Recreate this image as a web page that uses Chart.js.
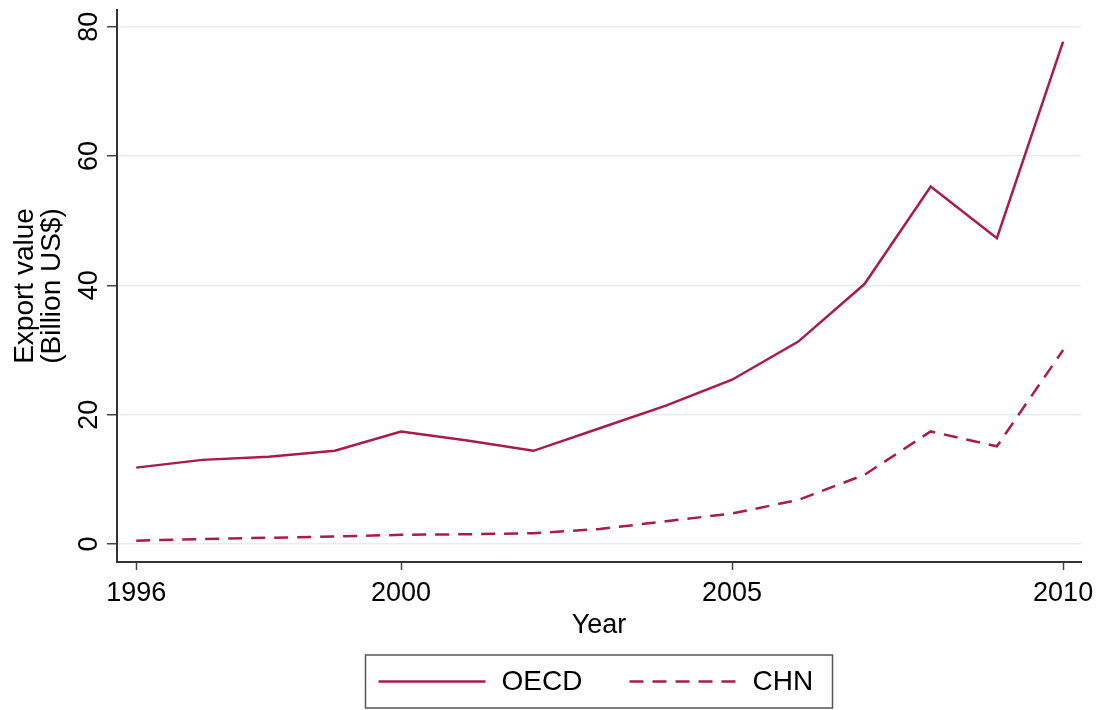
<!DOCTYPE html>
<html>
<head>
<meta charset="utf-8">
<script src="https://cdn.jsdelivr.net/npm/chart.js@4/dist/chart.umd.min.js"></script>
<style>
  html, body { margin: 0; padding: 0; background: #fff; }
  #wrap { width: 1104px; height: 710px; }
</style>
</head>
<body>
<div id="wrap"><canvas id="exportCanvas" width="1104" height="710"></canvas></div>
<script>
var years = [1996, 1997, 1998, 1999, 2000, 2001, 2002, 2003, 2004, 2005, 2006, 2007, 2008, 2009, 2010];
var oecdValues = [11.8, 13.0, 13.5, 14.4, 17.4, 16.0, 14.4, 17.9, 21.4, 25.4, 31.3, 40.2, 55.3, 47.3, 77.7];
var chnValues = [0.5, 0.75, 0.95, 1.15, 1.4, 1.5, 1.65, 2.3, 3.5, 4.7, 6.8, 10.7, 17.4, 15.1, 30.0];
var xTicks = [1996, 2000, 2005, 2010];
var yTicks = [0, 20, 40, 60, 80];

var lineColor = '#ab1a4b';
var fontFamily = '"Liberation Sans", Arial, Helvetica, sans-serif';

var toPoints = function (vals) {
    var pts = [];
    for (var i = 0; i < years.length; i++) {
        pts.push({x: years[i], y: vals[i]});
    }
    return pts;
};

// legend in a framed box under the plot, like the stata one
var boxLegend = {
    id: 'boxLegend',
    afterDraw: function (chart) {
        var ctx = chart.ctx;
        var area = chart.chartArea;
        var cx = (area.left + area.right) / 2;
        var bw = 467, bh = 53;
        var bx = cx - bw / 2, by = 655;
        ctx.save();
        ctx.strokeStyle = '#555';
        ctx.lineWidth = 1.5;
        ctx.strokeRect(bx, by, bw, bh);
        var midY = by + bh / 2;
        var offsets = [13, 264];
        ctx.font = '28px ' + fontFamily;
        ctx.textBaseline = 'middle';
        ctx.fillStyle = '#000';
        chart.data.datasets.forEach(function (ds, i) {
            var sx = bx + offsets[i];
            ctx.strokeStyle = ds.borderColor;
            ctx.lineWidth = ds.borderWidth;
            ctx.setLineDash(ds.borderDash || []);
            ctx.beginPath();
            ctx.moveTo(sx, midY);
            ctx.lineTo(sx + 107, midY);
            ctx.stroke();
            ctx.setLineDash([]);
            ctx.fillText(ds.label, sx + 123, midY + 1);
        });
        ctx.restore();
    }
};

var ctx = document.getElementById('exportCanvas');
var exportChart = new Chart(ctx, {
    type: 'line',
    data: {
        datasets: [
            {
                label: 'OECD',
                data: toPoints(oecdValues),
                borderColor: lineColor,
                borderWidth: 2.5,
                pointRadius: 0,
                tension: 0,
                fill: false
            },
            {
                label: 'CHN',
                data: toPoints(chnValues),
                borderColor: lineColor,
                borderWidth: 2.5,
                borderDash: [14, 9],
                pointRadius: 0,
                tension: 0,
                fill: false
            }
        ]
    },
    options: {
        responsive: false,
        animation: false,
        layout: { padding: { top: 10, right: 23, bottom: 60, left: 0 } },
        plugins: {
            legend: { display: false },
            tooltip: { enabled: false }
        },
        scales: {
            x: {
                type: 'linear',
                min: 1995.71,
                max: 2010.27,
                afterBuildTicks: function (scale) {
                    scale.ticks = xTicks.map(function (v) { return {value: v}; });
                },
                afterFit: function (scale) {
                    scale.height = 88;
                    scale.paddingLeft = 0;
                    scale.paddingRight = 0;
                },
                border: { color: '#333', width: 2 },
                grid: { drawOnChartArea: false, drawTicks: true, tickLength: 8, tickColor: '#444', tickWidth: 1.5 },
                ticks: {
                    autoSkip: false,
                    maxRotation: 0,
                    padding: 7,
                    color: '#000',
                    font: { family: fontFamily, size: 27 },
                    callback: function (v) { return String(v); }
                },
                title: {
                    display: true,
                    text: 'Year',
                    color: '#000',
                    font: { family: fontFamily, size: 27 },
                    padding: { top: 0, bottom: 8 }
                }
            },
            y: {
                type: 'linear',
                min: -2.8,
                max: 82.6,
                afterBuildTicks: function (scale) {
                    scale.ticks = yTicks.map(function (v) { return {value: v}; });
                },
                afterFit: function (scale) {
                    scale.width = 117;
                    scale.paddingTop = 0;
                    scale.paddingBottom = 0;
                },
                border: { color: '#333', width: 2 },
                grid: { color: '#e4edf0', lineWidth: 1.5, drawTicks: true, tickLength: 10, tickColor: '#444', tickWidth: 1.5 },
                ticks: {
                    minRotation: 90,
                    maxRotation: 90,
                    crossAlign: 'center',
                    padding: 2,
                    color: '#000',
                    font: { family: fontFamily, size: 27 },
                    callback: function (v) { return String(v); }
                },
                title: {
                    display: true,
                    text: ['Export value', '(Billion US$)'],
                    color: '#000',
                    font: { family: fontFamily, size: 28, lineHeight: 0.96 },
                    padding: { top: 12, bottom: 0 }
                }
            }
        }
    },
    plugins: [boxLegend]
});
</script>
</body>
</html>
